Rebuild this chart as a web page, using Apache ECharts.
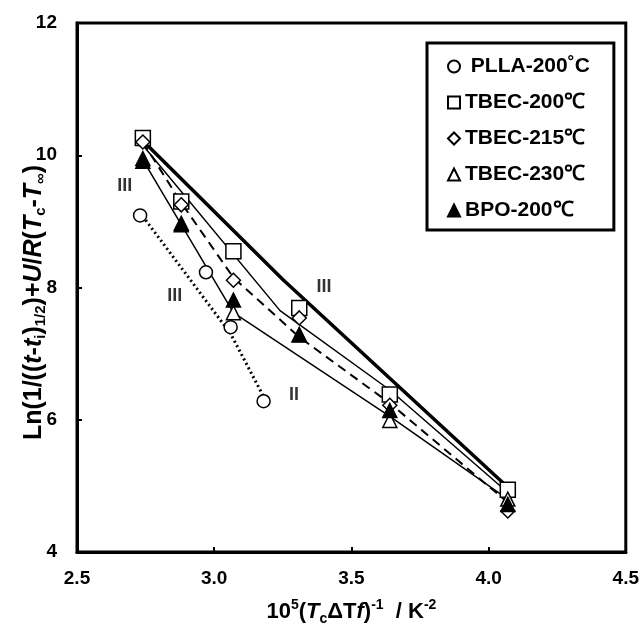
<!DOCTYPE html>
<html>
<head>
<meta charset="utf-8">
<script src="https://cdn.jsdelivr.net/npm/echarts@6/dist/echarts.min.js"></script>
<style>
  html, body { margin: 0; padding: 0; background: #fff; }
  #container { width: 642px; height: 631px; }
</style>
</head>
<body>
<div id="container"></div>
<script>
// data
const xTicks = [2.5, 3.0, 3.5, 4.0, 4.5];
const yTicks = [4, 6, 8, 10, 12];

const plla200 = [[2.73, 9.09], [2.97, 8.23], [3.06, 7.40], [3.18, 6.28]];
const tbec200 = [[2.74, 10.26], [2.88, 9.30], [3.07, 8.55], [3.31, 7.69], [3.64, 6.38], [4.07, 4.94]];
const tbec215 = [[2.74, 10.20], [2.88, 9.25], [3.07, 8.11], [3.31, 7.54], [3.64, 6.22], [4.07, 4.62]];
const tbec230 = [[2.74, 9.95], [2.88, 8.97], [3.07, 7.62], [3.31, 7.28], [3.64, 5.99], [4.07, 4.80]];
const bpo200 = [[2.74, 9.91], [2.88, 8.95], [3.07, 7.81], [3.31, 7.29], [3.64, 6.14], [4.07, 4.72]];

// fitted lines
const lineThick = [[2.74, 10.22], [3.25, 8.12], [4.07, 4.98]];
const lineMid = [[2.74, 10.15], [3.24, 7.65], [3.64, 6.45], [4.07, 4.90]];
const lineDash = [[2.74, 10.20], [2.88, 9.28], [3.07, 8.15], [3.31, 7.25], [3.64, 6.25], [4.07, 4.75]];
const lineLow = [[2.74, 9.93], [2.88, 8.95], [3.07, 7.62], [3.64, 6.05], [4.07, 4.80]];
const lineDot = [[2.75, 9.02], [3.06, 7.30], [3.18, 6.35]];

// regime labels
const regimeLabels = [
  { value: [2.674, 9.54], text: "III" },
  { value: [2.856, 7.87], text: "III" },
  { value: [3.40, 8.0], text: "III" },
  { value: [3.291, 6.38], text: "II" }
];

const font = "'Liberation Sans', Arial, sans-serif";

function markerSeries(name, data, symbol, size, filled) {
  return {
    name: name,
    type: "scatter",
    symbol: symbol,
    symbolSize: size,
    z: 5,
    itemStyle: {
      color: filled ? "#000" : "#fff",
      borderColor: "#000",
      borderWidth: 1.5,
      opacity: 1
    },
    data: data
  };
}

function lineSeries(name, data, width, type) {
  return {
    name: name,
    type: "line",
    symbol: "none",
    z: 2,
    silent: true,
    lineStyle: { color: "#000", width: width, type: type },
    data: data
  };
}

const chart = echarts.init(document.getElementById("container"));

const option = {
  animation: false,
  backgroundColor: "#fff",
  grid: {
    left: 77,
    right: 14,
    top: 23,
    bottom: 75,
    show: true,
    borderColor: "#000",
    borderWidth: 3
  },
  legend: {
    orient: "vertical",
    left: 427,
    top: 43,
    padding: [13, 24, 9, 20],
    itemWidth: 12,
    itemHeight: 12,
    itemGap: 15,
    borderColor: "#000",
    borderWidth: 3,
    backgroundColor: "#fff",
    data: ["PLLA-200˚C", "TBEC-200℃", "TBEC-215℃", "TBEC-230℃", "BPO-200℃"],
    formatter: function (n) {
      return n.indexOf("PLLA") === 0 ? " " + n : n;
    },
    textStyle: {
      fontFamily: font,
      fontWeight: "bold",
      fontSize: 21,
      lineHeight: 21,
      color: "#000"
    }
  },
  xAxis: {
    type: "value",
    min: 2.5,
    max: 4.5,
    interval: 0.5,
    name: "{n|10}{sup|5}{n|(}{i|T}{sub|c}{n|ΔT}{i|f}{n|)}{sup|-1}{n|  / K}{sup|-2}",
    nameLocation: "middle",
    nameGap: 46,
    nameMoveOverlap: false,
    nameTextStyle: {
      rich: {
        n: { fontFamily: font, fontWeight: "bold", fontSize: 22, color: "#000", lineHeight: 28 },
        i: { fontFamily: font, fontWeight: "bold", fontStyle: "italic", fontSize: 22, color: "#000", lineHeight: 28 },
        sup: { fontFamily: font, fontWeight: "bold", fontSize: 14, color: "#000", verticalAlign: "top", lineHeight: 28 },
        sub: { fontFamily: font, fontWeight: "bold", fontSize: 14, color: "#000", verticalAlign: "bottom", lineHeight: 28 }
      }
    },
    axisLine: { show: true, lineStyle: { color: "#000", width: 3 } },
    axisTick: { show: true, inside: true, length: 5, lineStyle: { color: "#000", width: 2 } },
    splitLine: { show: false },
    axisLabel: {
      margin: 17,
      fontFamily: font,
      fontWeight: "bold",
      fontSize: 19,
      color: "#000",
      formatter: function (v) {
        return xTicks.indexOf(v) >= 0 ? v.toFixed(1) : "";
      }
    }
  },
  yAxis: {
    type: "value",
    min: 4,
    max: 12,
    interval: 2,
    name: "{n|Ln(1/((}{i|t}{n|-}{i|t}{sub|i}{n|)}{sub|1/2}{n|)+}{i|U}{n|/}{i|R}{n|(}{i|T}{sub|c}{n|-}{i|T}{sub|∞}{n|)}",
    nameLocation: "middle",
    nameGap: 29,
    nameRotate: 90,
    nameMoveOverlap: false,
    nameTextStyle: {
      padding: [0, 30, 0, 0],
      rich: {
        n: { fontFamily: font, fontWeight: "bold", fontSize: 25, color: "#000", lineHeight: 28 },
        i: { fontFamily: font, fontWeight: "bold", fontStyle: "italic", fontSize: 25, color: "#000", lineHeight: 28 },
        sub: { fontFamily: font, fontWeight: "bold", fontSize: 15, color: "#000", verticalAlign: "bottom", lineHeight: 28 }
      }
    },
    axisLine: { show: true, lineStyle: { color: "#000", width: 3 } },
    axisTick: { show: true, inside: true, length: 5, lineStyle: { color: "#000", width: 2 } },
    splitLine: { show: false },
    axisLabel: {
      margin: 20,
      fontFamily: font,
      fontWeight: "bold",
      fontSize: 19,
      color: "#000",
      formatter: function (v) {
        return yTicks.indexOf(v) >= 0 ? String(v) : "";
      }
    }
  },
  series: [
    lineSeries("fitThick", lineThick, 3.5, "solid"),
    lineSeries("fitMid", lineMid, 1.5, "solid"),
    lineSeries("fitDash", lineDash, 2, [9, 6]),
    lineSeries("fitLow", lineLow, 1.5, "solid"),
    lineSeries("fitDot", lineDot, 3, [2, 3]),
    markerSeries("PLLA-200˚C", plla200, "circle", 13, false),
    markerSeries("TBEC-200℃", tbec200, "rect", 15, false),
    markerSeries("TBEC-215℃", tbec215, "diamond", 14, false),
    markerSeries("TBEC-230℃", tbec230, "triangle", 14, false),
    markerSeries("BPO-200℃", bpo200, "triangle", 14, true),
    {
      name: "regimes",
      type: "scatter",
      symbolSize: 0,
      silent: true,
      z: 6,
      label: {
        show: true,
        position: "inside",
        formatter: function (p) { return p.data.text; },
        fontFamily: font,
        fontWeight: "bold",
        fontSize: 18,
        color: "#000"
      },
      data: regimeLabels
    }
  ]
};

chart.setOption(option);
</script>
</body>
</html>
